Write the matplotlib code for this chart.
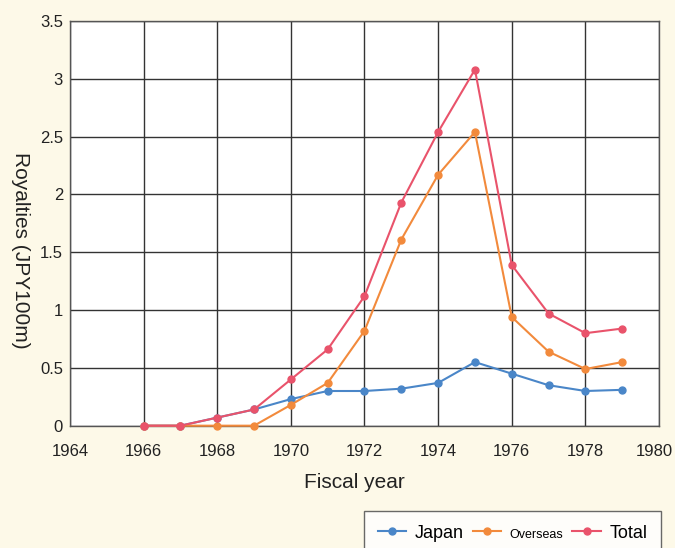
import matplotlib
matplotlib.use('Agg')
import matplotlib.pyplot as plt
from matplotlib.lines import Line2D
from matplotlib.transforms import ScaledTranslation

# royalties by fiscal year, in units of JPY 100 million
years    = [1966, 1967, 1968, 1969, 1970, 1971, 1972, 1973, 1974, 1975, 1976, 1977, 1978, 1979]
japan    = [0.0, 0.0, 0.07, 0.14, 0.23, 0.30, 0.30, 0.32, 0.37, 0.55, 0.45, 0.35, 0.30, 0.31]
overseas = [0.0, 0.0, 0.0, 0.0, 0.18, 0.37, 0.82, 1.61, 2.17, 2.54, 0.94, 0.64, 0.49, 0.55]
total    = [0.0, 0.0, 0.07, 0.14, 0.40, 0.66, 1.12, 1.93, 2.54, 3.08, 1.39, 0.97, 0.80, 0.84]

x_ticks = list(range(1964, 1981, 2))
y_ticks = [0, 0.5, 1, 1.5, 2, 2.5, 3, 3.5]
y_tick_labels = ['0', '0.5', '1', '1.5', '2', '2.5', '3', '3.5']

BG = '#fdf9e8'
C_JP, C_OV, C_TOT = '#4a86c8', '#f28a3c', '#e9536b'
W, H = 675, 548

plt.rcParams['font.family'] = ['Liberation Sans', 'DejaVu Sans']

fig = plt.figure(figsize=(W / 100, H / 100), dpi=100, facecolor=BG)
ax = fig.add_axes([0.1037, 0.2232, 0.8726, 0.7385])
ax.set_facecolor('white')

for vals, col in [(japan, C_JP), (overseas, C_OV), (total, C_TOT)]:
    ax.plot(years, vals, '-o', color=col, lw=1.5, ms=5, zorder=3, clip_on=False)

ax.set_xlim(1964, 1980)
ax.set_ylim(0, 3.5)
ax.set_xticks(x_ticks)
ax.set_yticks(y_ticks)
ax.set_yticklabels(y_tick_labels)
ax.tick_params(length=0, labelsize=12, colors='#222222')
ax.tick_params(axis='x', pad=13)
ax.tick_params(axis='y', pad=5)
ax.grid(True, color='#333333', lw=1.0)
ax.set_axisbelow(True)
for s in ax.spines.values():
    s.set_color('#555555')
    s.set_linewidth(1.0)

# keep the last year label inside the canvas
last = ax.get_xticklabels()[-1]
last.set_transform(last.get_transform() + ScaledTranslation(-5 / 100, 0, fig.dpi_scale_trans))

fig.text(354 / W, 1 - 483 / H, 'Fiscal year', fontsize=15, color='#222222',
         ha='center', va='center')
fig.text(20.5 / W, 1 - 250.5 / H, 'Royalties (JPY100m)', fontsize=15, color='#222222',
         ha='center', va='center', rotation=-90)

handles = [
    Line2D([], [], color=C_JP, marker='o', lw=1.5, ms=5, label='Japan'),
    Line2D([], [], color=C_OV, marker='o', lw=1.5, ms=5, label='Overseas'),
    Line2D([], [], color=C_TOT, marker='o', lw=1.5, ms=5, label='Total'),
]
leg = fig.legend(handles=handles, loc='upper left', bbox_to_anchor=(364 / W, 1 - 511 / H),
                 ncol=3, fontsize=13, frameon=True, fancybox=False,
                 handlelength=1.6, columnspacing=0.5, handletextpad=0.45,
                 borderpad=0.75, borderaxespad=0.0)
leg.get_frame().set_edgecolor('#444444')
leg.get_frame().set_linewidth(1.0)
leg.get_texts()[1].set_fontsize(9)

fig.savefig('out.png', dpi=100, facecolor=BG)
